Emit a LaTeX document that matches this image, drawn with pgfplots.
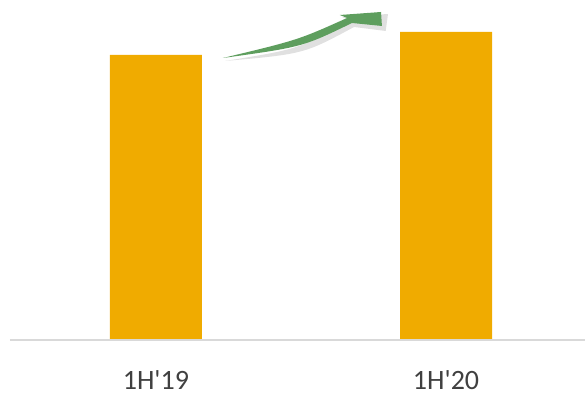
\documentclass[border=0pt]{standalone}
\usepackage{fontspec}
\setmainfont{Carlito}
\newfontfamily\lab{Carlito}
\usepackage{pgfplots}
\pgfplotsset{compat=1.18}
\definecolor{barc}{HTML}{F0AB00}
\definecolor{arrc}{HTML}{5E9E5E}
\definecolor{txt}{HTML}{404040}
\begin{document}
\begin{tikzpicture}
\useasboundingbox (0,0) rectangle (292.5pt,197pt);
\begin{axis}[
  at={(5pt,27pt)}, anchor=south west,
  scale only axis, width=287.5pt, height=170pt,
  xmin=-0.503, xmax=1.479, ymin=0, ymax=340,
  axis lines=none,
  xtick=data, xticklabels={},
  ytick=\empty,
  clip=false,
]
\addplot[ybar, bar width=46pt, fill=barc, draw=none, bar shift=0pt] coordinates {(0,285) (1,308)};
\draw[color=black!15, line width=1pt] (axis cs:-0.503,0) -- (axis cs:1.479,0);
\node[font=\lab\fontsize{14}{16}\selectfont, text=txt] at (axis cs:0,-40) {1H'19};
\node[font=\lab\fontsize{14}{16}\selectfont, text=txt] at (axis cs:1,-40) {1H'20};
% shadow
\fill[black, opacity=0.12] (axis cs:0.238,279) .. controls (axis cs:0.495,291) .. (axis cs:0.666,320)
  -- (axis cs:0.641,323) -- (axis cs:0.800,326) -- (axis cs:0.792,309) -- (axis cs:0.683,313)
  .. controls (axis cs:0.510,286) .. cycle;
\fill[arrc] (axis cs:0.231,282) .. controls (axis cs:0.490,300) .. (axis cs:0.659,322)
  -- (axis cs:0.634,325) -- (axis cs:0.776,328) -- (axis cs:0.779,314) -- (axis cs:0.676,317)
  .. controls (axis cs:0.505,293) .. cycle;
\end{axis}
\end{tikzpicture}
\end{document}
